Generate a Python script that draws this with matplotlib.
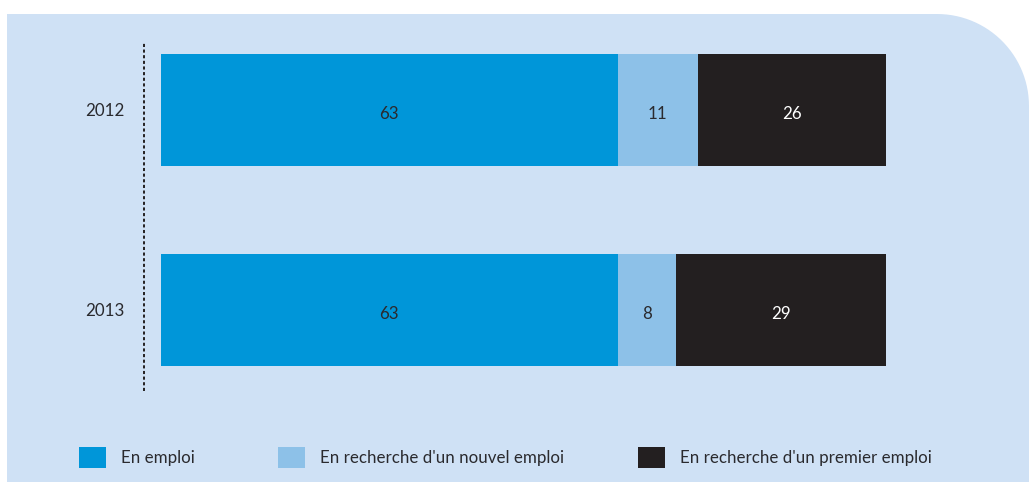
import numpy as np
import matplotlib
matplotlib.use("Agg")
import matplotlib.pyplot as plt
from matplotlib.path import Path
from matplotlib.patches import PathPatch, Patch

# data
years = ["2012", "2013"]
en_emploi = [63, 63]
nouvel_emploi = [11, 8]
premier_emploi = [26, 29]
labels = ["En emploi", "En recherche d'un nouvel emploi", "En recherche d'un premier emploi"]
colors = ["#0096d9", "#8dc1e8", "#231f20"]
text_colors = ["#2a2a2e", "#2a2a2e", "white"]

plt.rcParams['font.family'] = ['Lato', 'DejaVu Sans']
fs = 12.2
W, H = 1029, 482
fig = plt.figure(figsize=(W / 100, H / 100), dpi=100)
fig.patch.set_facecolor("white")

# background panel with rounded top-right corner (pixel coords)
bg = fig.add_axes([0, 0, 1, 1])
bg.set_xlim(0, W)
bg.set_ylim(H, 0)
bg.axis("off")
x0, y0, r = 7, 14, 92
t = np.linspace(np.pi / 2, 0, 30)
cx, cy = W - r, y0 + r
arc = [(cx + r * np.cos(a), cy - r * np.sin(a)) for a in t]
verts = [(x0, H), (x0, y0)] + arc + [(W, H), (x0, H)]
bg.add_patch(PathPatch(Path(verts), facecolor="#cfe1f5", edgecolor="none"))

# main bar axes: spine at px 144, 100% ends at px 886, top px 41, bottom px 390
px_per_unit = (886 - 161) / 100
left_off = (161 - 144) / px_per_unit
ax = fig.add_axes([144 / W, (H - 390) / H, (886 - 144) / W, (390 - 41) / H])
ax.set_facecolor("none")
ax.set_xlim(-left_off, 100)
ax.set_ylim(1.4, -0.345)

series = [en_emploi, nouvel_emploi, premier_emploi]
ypos = np.arange(len(years))
left = np.zeros(len(years))
for vals, c, tc in zip(series, colors, text_colors):
    vals = np.array(vals)
    ax.barh(ypos, vals, left=left, height=0.56, color=c, edgecolor="none")
    for y, l, v in zip(ypos, left, vals):
        ax.text(l + v / 2, y + 0.02, str(v), ha="center", va="center", color=tc, fontsize=fs)
    left = left + vals

ax.set_yticks(ypos)
ax.set_yticklabels(years, fontsize=fs, color="#2a2a2e")
ax.tick_params(axis="y", length=0, pad=14)
ax.set_xticks([])
for s in ["top", "right", "bottom"]:
    ax.spines[s].set_visible(False)
ax.spines["left"].set_linestyle((0, (0.6, 2.3)))
ax.spines["left"].set_linewidth(1.4)
ax.spines["left"].set_color("#231f20")

# legend, one entry per column
leg_x = [79, 278, 638]
for lx, lab, c in zip(leg_x, labels, colors):
    fig.legend(handles=[Patch(facecolor=c, edgecolor="none", label=lab)],
               loc="center left", bbox_to_anchor=(lx / W, (H - 457.5) / H),
               frameon=False, borderpad=0, borderaxespad=0,
               handlelength=1.59, handleheight=1.59, handletextpad=0.9,
               fontsize=fs, labelcolor="#2a2a2e")

fig.savefig("out.png", dpi=100)
